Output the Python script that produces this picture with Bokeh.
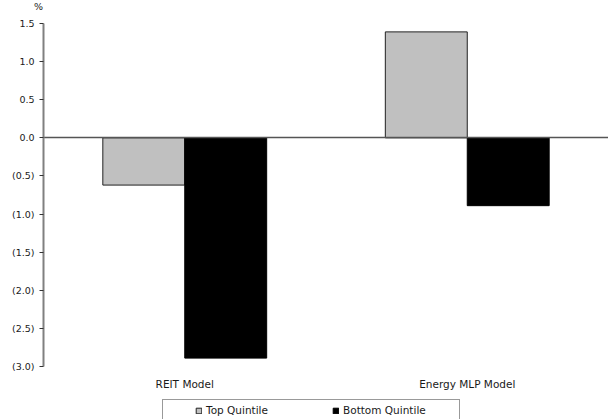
from bokeh.plotting import figure
from bokeh.models import (ColumnDataSource, Range1d, FixedTicker, NumeralTickFormatter,
                          Label, Legend, LegendItem)
from bokeh.core.properties import value
from bokeh.transform import dodge
from bokeh.embed import file_html
from bokeh.resources import INLINE

# Average excess return (%) by quintile for each model
models = ["REIT Model", "Energy MLP Model"]
top_quintile = [-0.62, 1.39]
bottom_quintile = [-2.89, -0.89]
series_names = ["Top Quintile", "Bottom Quintile"]
y_ticks = [-3.0, -2.5, -2.0, -1.5, -1.0, -0.5, 0.0, 0.5, 1.0, 1.5]

FONT = "DejaVu Sans"
TEXT = "#1a1a1a"

# canvas geometry: value axis drawn 43px from the left, 23px from the top, 343px tall
W, H = 608, 419
TOP, LEFT, AXIS_PX = 23, 43, 343

y_lo, y_hi = y_ticks[0], y_ticks[-1]
px_per_unit = AXIS_PX / (y_hi - y_lo)
y_floor = y_lo - (H - TOP - AXIS_PX) / px_per_unit
y_ceil = y_hi + TOP / px_per_unit

n = len(models)
slot_px = (W - LEFT) / n            # each model gets an equal slot
x_start = -LEFT / slot_px

# one unit-wide slot per model, bars centred in it
x_center = [i + 0.5 for i in range(n)]
source = ColumnDataSource(dict(x=x_center, model=models, top=top_quintile, bottom=bottom_quintile))

p = figure(
    width=W, height=H,
    x_range=Range1d(x_start, n), y_range=Range1d(y_floor, y_ceil),
    output_backend="svg", toolbar_location=None,
    min_border_left=0, min_border_right=0, min_border_top=0, min_border_bottom=0,
    background_fill_color="white", border_fill_color="white",
)
p.outline_line_color = None
p.xgrid.visible = False
p.ygrid.visible = False

bar_w = 0.29
r_top = p.vbar(x=dodge("x", -bar_w / 2), top="top", bottom=0, width=bar_w,
               source=source, fill_color="#c0c0c0", line_color="#202020", line_width=1)
r_bot = p.vbar(x=dodge("x", bar_w / 2), top="bottom", bottom=0, width=bar_w,
               source=source, fill_color="#000000", line_color="#000000", line_width=1)

# category axis sits on the zero line
xax = p.xaxis[0]
xax.fixed_location = 0
xax.bounds = (0, n)
xax.ticker = FixedTicker(ticks=[])
xax.axis_line_color = "#555555"
xax.axis_line_width = 1.5
xax.major_tick_line_color = None
xax.minor_tick_line_color = None
xax.major_label_text_color = None

# category labels under the value axis
p.text(x="x", y=y_lo, text="model", source=source, y_offset=17,
       text_align="center", text_baseline="middle",
       text_font=value(FONT), text_font_size="10.5px", text_color=TEXT)

# value axis
yax = p.yaxis[0]
yax.fixed_location = 0
yax.bounds = (y_lo, y_hi)
yax.ticker = FixedTicker(ticks=y_ticks)
yax.formatter = NumeralTickFormatter(format="(0.0)")
yax.axis_line_color = "#808080"
yax.axis_line_width = 2
yax.major_tick_line_color = "#333333"
yax.major_tick_out = 4
yax.major_tick_in = 0
yax.minor_tick_line_color = None
yax.major_label_standoff = 5
yax.major_label_text_font = FONT
yax.major_label_text_font_size = "9.5px"
yax.major_label_text_color = TEXT

# unit label above the value axis
p.add_layout(Label(x=0, y=y_hi, x_offset=-5, y_offset=17, text="%",
                   text_align="center", text_baseline="middle",
                   text_font=FONT, text_font_size="9.5px", text_color=TEXT))

# boxed legend at the bottom, running off the lower edge
legend = Legend(
    items=[LegendItem(label=series_names[0], renderers=[r_top]),
           LegendItem(label=series_names[1], renderers=[r_bot])],
    orientation="horizontal", location=(162, -2),
    title=" ", title_location="left", title_standoff=17,
    title_text_font=FONT, title_text_font_size="10px",
    padding=4, margin=0, spacing=14,
    glyph_width=7, glyph_height=7, label_standoff=4, label_width=112, label_height=12,
    label_text_font=FONT, label_text_font_size="10.5px", label_text_color=TEXT,
    border_line_color="#333333", border_line_width=1, background_fill_alpha=0,
)
p.add_layout(legend, "center")

open("out.html", "w").write(file_html(p, INLINE))
